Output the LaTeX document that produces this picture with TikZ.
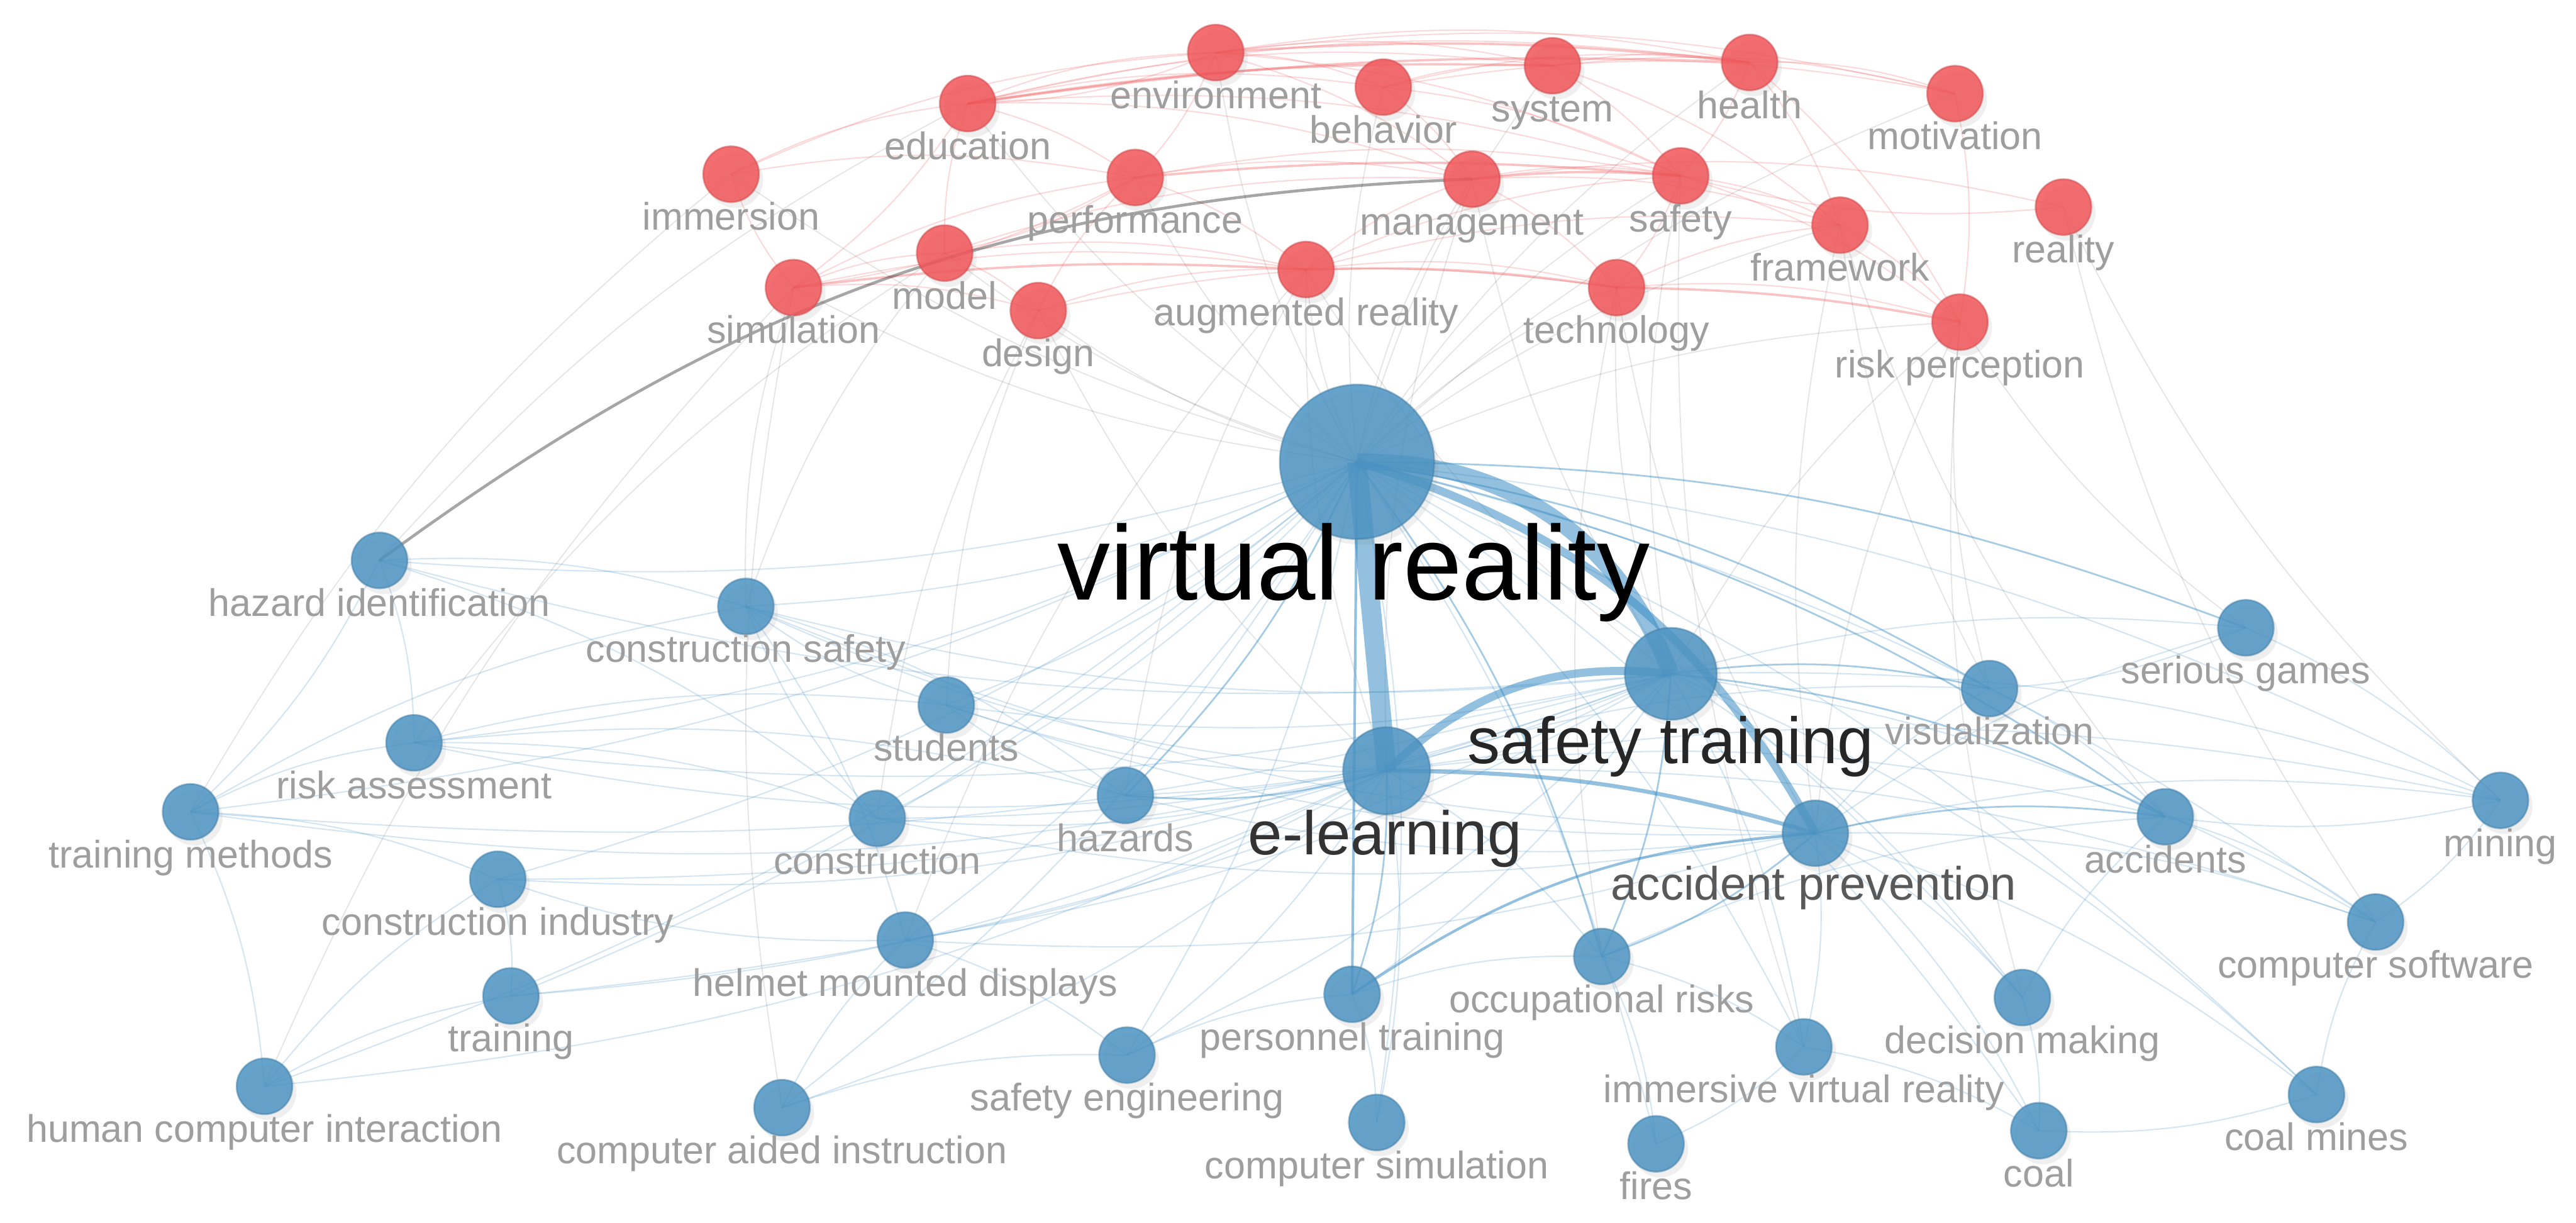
\documentclass[tikz,border=0pt]{standalone}
\usepackage{fontspec}
\setmainfont{Liberation Sans}
\usetikzlibrary{shadows, backgrounds}
\definecolor{cblue}{HTML}{4C93C2}
\definecolor{cred}{HTML}{F05558}
\definecolor{cedge}{HTML}{3A8DC4}
\definecolor{clabel}{HTML}{9E9E9E}
\tikzset{
  kw/.style={circle, fill=#1, draw=#1!85!black, fill opacity=0.85, draw opacity=0.5, line width=0.6pt,
    inner sep=0pt, minimum size=0.68cm, drop shadow={opacity=0.12, shadow xshift=0.05cm, shadow yshift=-0.07cm}},
  kw/.default=cblue,
  lbl/.style={anchor=base, text=clabel, font=\fontsize{13.3}{15}\selectfont, inner sep=0pt},
  big/.style={anchor=base, inner sep=0pt},
  blink/.style={draw=cedge, draw opacity=0.22, line width=0.45pt},
  rlink/.style={draw=cred, draw opacity=0.22, line width=0.45pt},
  glink/.style={draw=black, draw opacity=0.1, line width=0.4pt},
  strong/.style={draw=cedge, draw opacity=0.55, line width=#1},
}
% keyword lists: name/x/y/label (reference pixels)
\newcommand{\redkw}{env/740/32/environment, edu/589/63/education, beh/842/53/behavior, sys/945/40/system,
  hea/1065/38/health, mot/1190/57/motivation, imm/445/106/immersion, perf/691/108/performance,
  mgmt/896/109/management, saf/1023/107/safety, real/1256/126/reality, fw/1120/137/framework,
  model/575/154/model, sim/483/175/simulation, des/632/189/design, ar/795/164/augmented reality,
  tech/984/175/technology, rp/1193/196/risk perception}
\newcommand{\bluekw}{hid/231/341/hazard identification, cs/454/369/construction safety, stu/576/429/students,
  ra/252/452/risk assessment, tm/116/494/training methods, con/534/498/construction, haz/685/484/hazards,
  ci/303/535/construction industry, hmd/551/572/helmet mounted displays, trn/311/606/training,
  hci/161/661/human computer interaction, cai/476/674/computer aided instruction, se/686/642/safety engineering,
  pt/823/605/personnel training, csim/838/683/computer simulation, or/975/582/occupational risks,
  fires/1008/696/fires, ivr/1098/637/immersive virtual reality, dm/1231/607/decision making, coal/1241/688/coal,
  cm/1410/666/coal mines, csw/1446/561/computer software, acc/1318/497/accidents, mine/1522/487/mining,
  sg/1367/382/serious games, vis/1211/419/visualization}

\begin{document}
\begin{tikzpicture}[x=0.02cm, y=-0.02cm]
  \useasboundingbox (0,0) rectangle (1568,744);
  % main keywords
  \node[kw, minimum size=1.88cm] (vr) at (826,281) {};
  \node[kw, minimum size=1.12cm] (st) at (1017,410) {};
  \node[kw, minimum size=1.06cm] (el) at (844,469) {};
  \node[kw, minimum size=0.8cm] (ap) at (1105,507) {};
  \foreach \n/\x/\y/\t in \bluekw { \node[kw] (\n) at (\x,\y) {}; }
  \foreach \n/\x/\y/\t in \redkw { \node[kw=cred] (\n) at (\x,\y) {}; }

  \begin{scope}[on background layer]
    \fill[white] (0,0) rectangle (1568,744);
    % faint links
    \foreach \a/\b in {vr/mgmt, vr/ar, vr/tech, vr/saf, vr/sys, vr/perf, vr/des, vr/model, vr/sim, vr/rp, vr/fw,
      vr/env, vr/edu, vr/beh, vr/hea, vr/mot, vr/imm, st/rp, st/tech, st/mgmt, ap/rp, ap/fw, el/ar, el/des,
      cs/sim, cs/model, hid/edu, sg/rp, mine/real, vis/rp, acc/fw, tm/imm, ra/model, stu/des, haz/ar, or/tech,
      dm/rp, csw/real, ivr/saf, cai/sim, hci/sim, st/ar, st/saf, el/mgmt, ap/tech, vis/fw, con/des, hmd/ar}
      \draw[glink] (\a.center) to[bend left=10] (\b.center);
    \foreach \a/\b in {env/edu, env/beh, env/sys, env/hea, env/mot, env/perf, env/mgmt, env/saf, edu/beh, edu/sys,
      edu/hea, edu/mgmt, edu/saf, edu/perf, edu/sim, beh/sys, beh/hea, beh/mot, beh/mgmt, beh/saf, sys/hea,
      sys/mot, sys/saf, sys/fw, hea/mot, hea/saf, hea/fw, hea/rp, perf/mgmt, perf/saf, perf/sim, perf/model,
      perf/ar, mgmt/saf, mgmt/fw, mgmt/real, mgmt/tech, saf/fw, saf/rp, saf/tech, sim/model, sim/des, sim/ar,
      sim/imm, model/des, model/mgmt, model/edu, des/ar, des/perf, ar/tech, ar/mgmt, ar/fw, tech/rp, tech/fw,
      fw/rp, mot/rp, imm/edu, imm/perf, imm/env, real/saf, ar/saf, des/tech, model/ar, edu/env, sim/perf}
      \draw[rlink] (\a.center) to[bend left=10] (\b.center);
    \foreach \a/\b in {edu/hea, edu/sys, env/hea, perf/saf, mgmt/saf, ar/tech, tech/rp, sim/ar}
      \draw[rlink, draw opacity=0.35, line width=0.8pt] (\a.center) to[bend left=5] (\b.center);
    \foreach \a/\b in {vr/hid, vr/cs, vr/stu, vr/ra, vr/tm, vr/con, vr/ci, vr/hmd, vr/trn, vr/hci, vr/cai, vr/se,
      vr/csim, vr/fires, vr/ivr, vr/dm, vr/coal, vr/cm, vr/csw, vr/mine,
      st/hid, st/cs, st/stu, st/ra, st/tm, st/con, st/haz, st/ci, st/hmd, st/trn, st/se, st/pt, st/mine, st/sg,
      st/csw, st/dm, st/ivr, st/cm,
      el/cs, el/stu, el/ra, el/tm, el/con, el/ci, el/hmd, el/trn, el/hci, el/cai, el/se, el/csim, el/or, el/acc,
      el/vis, el/csw, el/mine,
      ap/cs, ap/stu, ap/con, ap/haz, ap/hmd, ap/ivr, ap/dm, ap/csw, ap/mine, ap/coal, ap/cm, ap/vis, ap/sg,
      hid/ra, hid/tm, hid/cs, tm/ra, tm/ci, tm/hci, ci/trn, hci/trn, hci/ci, cai/hmd, cai/se, se/pt, pt/csim,
      or/ivr, or/fires, ivr/coal, dm/coal, cm/csw, cm/coal, mine/csw, mine/acc, acc/csw, sg/vis, vis/acc,
      con/cs, stu/cs, haz/stu, hmd/ci, sg/mine, dm/acc, ivr/fires, cs/haz, ra/con, ra/haz, cs/hmd, hmd/se,
      pt/or, or/acc, hid/con, ra/stu, tm/cs}
      \draw[blink] (\a.center) to[bend left=10] (\b.center);
    % stronger links
    \foreach \a/\b in {vr/vis, vr/acc, vr/sg, vr/or, vr/haz, st/vis, st/acc, ap/acc, ap/or, st/or, el/haz, el/pt}
      \draw[strong=0.6pt, draw opacity=0.45] (\a.center) to[bend left=10] (\b.center);
    \draw[strong=6.8pt] (vr.center) -- (el.center);
    \draw[strong=5.7pt] (vr.center) to[bend left=35] (st.center);
    \draw[strong=2.8pt] (vr.center) to[bend left=22] (ap.center);
    \draw[strong=2.8pt] (el.center) to[bend left=25] (st.center);
    \draw[strong=1.4pt] (el.center) to[bend left=8] (ap.center);
    \draw[strong=0.9pt] (vr.center) -- (pt.center);
    \draw[strong=0.9pt] (pt.center) to[bend left=15] (ap.center);
    \draw[glink, draw opacity=0.35, line width=1pt] (hid.center) to[bend left=17] (mgmt.center);
  \end{scope}

  % labels
  \foreach \n/\x/\y/\t in \bluekw { \node[lbl] (\n-l) at (\x,\y+34) {\t}; }
  \foreach \n/\x/\y/\t in \redkw { \node[lbl] (\n-l) at (\x,\y+34) {\t}; }
  \node[big, font=\fontsize{36.6}{40}\selectfont] (vr-l) at (824,365) {virtual reality};
  \node[big, text=black!85, font=\fontsize{22.6}{26}\selectfont] (st-l) at (1017,464.5) {safety training};
  \node[big, text=black!80, font=\fontsize{21.3}{24}\selectfont] (el-l) at (843,520) {e-learning};
  \node[big, text=black!65, font=\fontsize{16.2}{19}\selectfont] (ap-l) at (1104,547.5) {accident prevention};
\end{tikzpicture}
\end{document}
